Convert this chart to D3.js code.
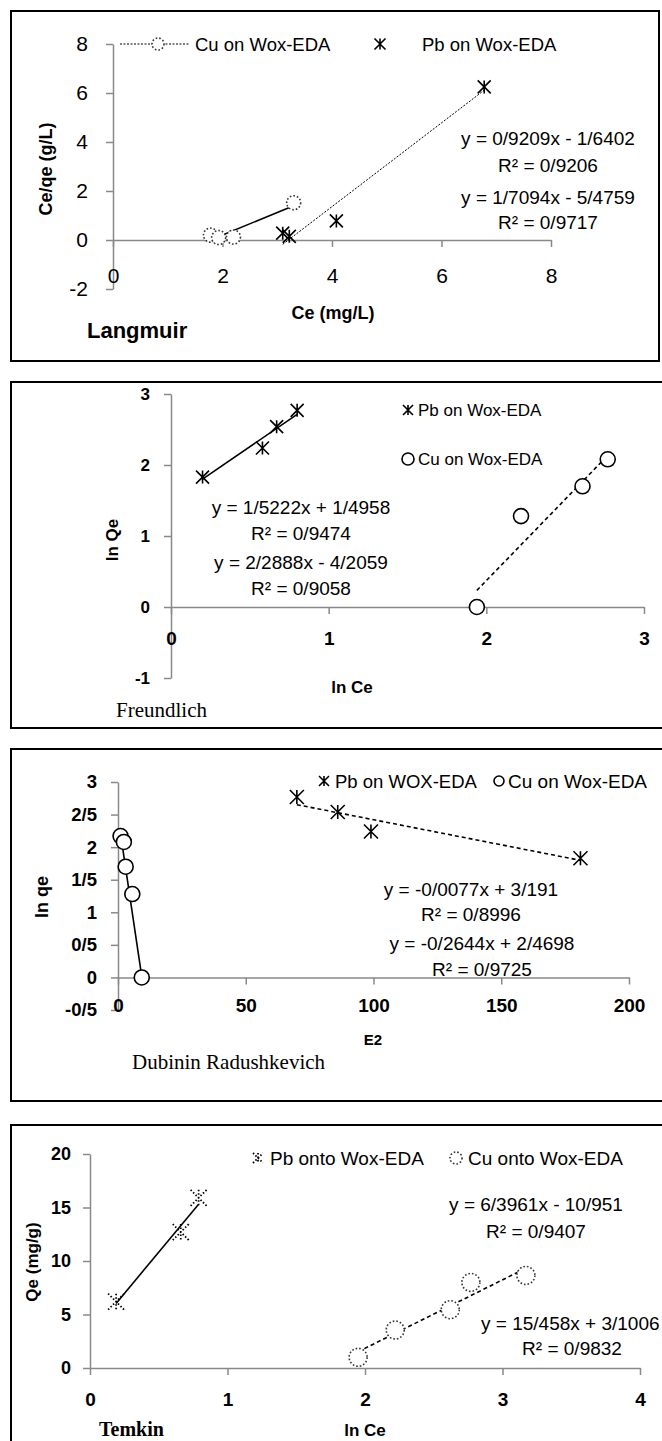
<!DOCTYPE html>
<html>
<head>
<meta charset="utf-8">
<script src="https://cdn.jsdelivr.net/npm/d3@7"></script>
<style>
body { margin: 0; background: #fff; }
text { font-family: "Liberation Sans", Arial, sans-serif; fill: #000; }
.serif { font-family: "Liberation Serif", "Times New Roman", serif; }
.axis path, .axis line { stroke: #898989; stroke-width: 1.5; }
</style>
</head>
<body>
<script>
var width = 662,
    height = 1441;

// Langmuir
var langCu = [[1.78, 0.2], [1.93, 0.1], [2.2, 0.12], [3.3, 1.52]];
var langPb = [[3.1, 0.28], [3.22, 0.15], [4.08, 0.78], [6.78, 6.25]];
var langCuFit = [0.9209, -1.6402];
var langPbFit = [1.7094, -5.4759];
var langXTicks = [0, 2, 4, 6, 8];
var langYTicks = [-2, 0, 2, 4, 6, 8];
var langEq = ["y = 0/9209x - 1/6402", "R² = 0/9206", "y = 1/7094x - 5/4759", "R² = 0/9717"];

// Freundlich
var freuPb = [[0.2, 1.83], [0.58, 2.24], [0.67, 2.54], [0.8, 2.77]];
var freuCu = [[1.94, 0], [2.22, 1.28], [2.61, 1.7], [2.77, 2.08]];
var freuPbFit = [1.5222, 1.4958];
var freuCuFit = [2.2888, -4.2059];
var freuXTicks = [0, 1, 2, 3];
var freuYTicks = [-1, 0, 1, 2, 3];
var freuEq = ["y = 1/5222x + 1/4958", "R² = 0/9474", "y = 2/2888x - 4/2059", "R² = 0/9058"];

// Dubinin Radushkevich
var drPb = [[70, 2.77], [86, 2.54], [99, 2.24], [181, 1.83]];
var drCu = [[1, 2.17], [2.3, 2.08], [3, 1.7], [5.6, 1.28], [9.3, 0]];
var drPbFit = [-0.0077, 3.191];
var drCuFit = [-0.2644, 2.4698];
var drXTicks = [0, 50, 100, 150, 200];
var drYTicks = [-0.5, 0, 0.5, 1, 1.5, 2, 2.5, 3];
var drEq = ["y = -0/0077x + 3/191", "R² = 0/8996", "y = -0/2644x + 2/4698", "R² = 0/9725"];

// Temkin
var temPb = [[0.19, 6.2], [0.66, 12.7], [0.79, 15.9]];
var temCu = [[1.95, 1.0], [2.22, 3.55], [2.62, 5.45], [2.77, 8.0], [3.17, 8.65]];
var temPbFit = [15.458, 3.1006];
var temCuFit = [6.3961, -10.951];
var temXTicks = [0, 1, 2, 3, 4];
var temYTicks = [0, 5, 10, 15, 20];
var temEq = ["y = 6/3961x - 10/951", "R² = 0/9407", "y = 15/458x + 3/1006", "R² = 0/9832"];

var svg = d3.select("body").append("svg")
  .attr("width", width)
  .attr("height", height);

function slash(d) { return String(d).replace(".", "/"); }

function marker(g, type, cx, cy, s) {
  if (type == "circle" || type == "dotcircle") {
    g.append("circle")
      .attr("cx", cx).attr("cy", cy).attr("r", s)
      .attr("fill", "#fff")
      .attr("stroke", type == "circle" ? "#000" : "#333")
      .attr("stroke-width", 1.6)
      .attr("stroke-dasharray", type == "circle" ? null : "1.6,2");
  } else {
    var p = "M" + (cx - s) + "," + (cy - s) + "L" + (cx + s) + "," + (cy + s) +
            "M" + (cx - s) + "," + (cy + s) + "L" + (cx + s) + "," + (cy - s) +
            "M" + cx + "," + (cy - s) + "L" + cx + "," + (cy + s);
    g.append("path")
      .attr("d", p)
      .attr("fill", "none")
      .attr("stroke", "#000")
      .attr("stroke-width", type == "star" ? 1.6 : 1.8)
      .attr("stroke-dasharray", type == "star" ? null : "1.5,2");
  }
}

function panel(o) {
  var g = svg.append("g");

  g.append("rect")
    .attr("x", o.box[0]).attr("y", o.box[1])
    .attr("width", o.box[2]).attr("height", o.box[3])
    .attr("fill", "none").attr("stroke", "#000").attr("stroke-width", 2);

  var x = d3.scaleLinear().domain(o.xDomain).range(o.xRange);
  var y = d3.scaleLinear().domain(o.yDomain).range(o.yRange);

  var ya = g.append("g").attr("class", "axis")
    .attr("transform", "translate(" + x(0) + ",0)")
    .call(d3.axisLeft(y).tickValues(o.yTicks).tickSize(7).tickSizeOuter(0)
      .tickPadding(o.yPad).tickFormat(slash));
  ya.selectAll("text")
    .style("font-size", o.yFont + "px")
    .style("font-weight", o.bold ? "bold" : "normal")
    .style("font-family", "'Liberation Sans', Arial, sans-serif")
    .attr("fill", "#000");

  var xa = g.append("g").attr("class", "axis")
    .attr("transform", "translate(0," + y(0) + ")")
    .call(d3.axisBottom(x).tickValues(o.xTicks).tickSize(7).tickSizeOuter(0)
      .tickPadding(o.xPad).tickFormat(slash));
  xa.selectAll("text")
    .style("font-size", o.xFont + "px")
    .style("font-weight", o.bold ? "bold" : "normal")
    .style("font-family", "'Liberation Sans', Arial, sans-serif")
    .attr("fill", "#000");

  o.series.forEach(function(s) {
    var ext = d3.extent(s.data, function(d) { return d[0]; });
    g.append("line")
      .attr("x1", x(ext[0])).attr("y1", y(s.fit[0] * ext[0] + s.fit[1]))
      .attr("x2", x(ext[1])).attr("y2", y(s.fit[0] * ext[1] + s.fit[1]))
      .attr("stroke", "#000")
      .attr("stroke-width", s.dash == "dot" ? 1 : 1.6)
      .attr("stroke-dasharray", s.dash == "dot" ? "2,1.5" : s.dash == "dash" ? "4,3" : null);
    s.data.forEach(function(d) { marker(g, s.type, x(d[0]), y(d[1]), s.size); });
  });

  o.texts.forEach(function(t) {
    var el = g.append("text")
      .attr("x", t[1]).attr("y", t[2])
      .attr("text-anchor", t[3] || "middle")
      .style("font-size", t[4] + "px")
      .style("font-weight", t[5] ? "bold" : "normal")
      .text(t[0]);
    if (t[6]) el.attr("class", "serif");
  });

  o.vtexts.forEach(function(t) {
    g.append("text")
      .attr("transform", "translate(" + t[1] + "," + t[2] + ") rotate(-90)")
      .attr("text-anchor", "middle")
      .style("font-size", t[3] + "px")
      .style("font-weight", "bold")
      .text(t[0]);
  });

  return g;
}

// Langmuir
var p1 = panel({
  box: [11, 11, 648, 350],
  xDomain: [0, 8], xRange: [113, 551],
  yDomain: [-2, 8], yRange: [289, 44],
  xTicks: langXTicks, yTicks: langYTicks,
  xPad: 21, yPad: 18, xFont: 21, yFont: 21, bold: false,
  series: [
    { data: langCu, fit: langCuFit, type: "dotcircle", size: 7, dash: null },
    { data: langPb, fit: langPbFit, type: "star", size: 6.5, dash: "dot" }
  ],
  texts: [
    ["Cu on Wox-EDA", 195, 51, "start", 18.5],
    ["Pb on Wox-EDA", 422, 51, "start", 18.5],
    [langEq[0], 548, 145, "middle", 19],
    [langEq[1], 548, 172, "middle", 19],
    [langEq[2], 548, 204, "middle", 19],
    [langEq[3], 548, 229, "middle", 19],
    ["Ce (mg/L)", 333, 319, "middle", 18, true],
    ["Langmuir", 87, 338, "start", 22, true]
  ],
  vtexts: [["Ce/qe (g/L)", 52, 169, 18]]
});
p1.append("line").attr("x1", 120).attr("x2", 190).attr("y1", 44).attr("y2", 44)
  .attr("stroke", "#000").attr("stroke-width", 1).attr("stroke-dasharray", "2,1.5");
marker(p1, "dotcircle", 158, 44, 6);
marker(p1, "star", 380, 44, 5.5);

// Freundlich
var p2 = panel({
  box: [11, 382, 700, 346],
  xDomain: [0, 3], xRange: [171, 644],
  yDomain: [-1, 3], yRange: [678, 394],
  xTicks: freuXTicks, yTicks: freuYTicks,
  xPad: 18, yPad: 14, xFont: 19, yFont: 17, bold: true,
  series: [
    { data: freuPb, fit: freuPbFit, type: "star", size: 6.5, dash: null },
    { data: freuCu, fit: freuCuFit, type: "circle", size: 7.5, dash: "dash" }
  ],
  texts: [
    ["Pb on Wox-EDA", 418, 416, "start", 17],
    ["Cu on Wox-EDA", 418, 465, "start", 17],
    [freuEq[0], 301, 514, "middle", 19],
    [freuEq[1], 301, 540, "middle", 19],
    [freuEq[2], 301, 569, "middle", 19],
    [freuEq[3], 301, 595, "middle", 19],
    ["ln Ce", 352, 693, "middle", 17, true],
    ["Freundlich", 116, 717, "start", 21, false, true]
  ],
  vtexts: [["ln Qe", 118, 540, 17]]
});
marker(p2, "star", 408, 410, 5);
marker(p2, "circle", 408, 459, 6);

// Dubinin Radushkevich
var p3 = panel({
  box: [11, 749, 700, 352],
  xDomain: [0, 200], xRange: [118, 629],
  yDomain: [-0.5, 3], yRange: [1010, 782],
  xTicks: drXTicks, yTicks: drYTicks,
  xPad: 14, yPad: 14, xFont: 19, yFont: 18.5, bold: true,
  series: [
    { data: drPb, fit: drPbFit, type: "star", size: 7, dash: "dash" },
    { data: drCu, fit: drCuFit, type: "circle", size: 7.5, dash: null }
  ],
  texts: [
    ["Pb on WOX-EDA", 335, 788, "start", 18.5],
    ["Cu on Wox-EDA", 508, 788, "start", 19],
    [drEq[0], 471, 896, "middle", 19],
    [drEq[1], 471, 921, "middle", 19],
    [drEq[2], 482, 950, "middle", 19],
    [drEq[3], 482, 976, "middle", 19],
    ["E2", 373, 1045, "middle", 15, true],
    ["Dubinin Radushkevich", 132, 1069, "start", 21, false, true]
  ],
  vtexts: [["ln qe", 48, 897, 18]]
});
marker(p3, "star", 324, 781, 5);
marker(p3, "circle", 499, 781, 5);

// Temkin
var p4 = panel({
  box: [11, 1125, 700, 340],
  xDomain: [0, 4], xRange: [90, 640],
  yDomain: [0, 20], yRange: [1368, 1154],
  xTicks: temXTicks, yTicks: temYTicks,
  xPad: 18, yPad: 12, xFont: 19, yFont: 18, bold: true,
  series: [
    { data: temPb, fit: temPbFit, type: "dotstar", size: 8, dash: null },
    { data: temCu, fit: temCuFit, type: "dotcircle", size: 9, dash: "dash" }
  ],
  texts: [
    ["Pb onto Wox-EDA", 270, 1165, "start", 19],
    ["Cu onto Wox-EDA", 468, 1165, "start", 19],
    [temEq[0], 536, 1211, "middle", 19],
    [temEq[1], 536, 1238, "middle", 19],
    [temEq[2], 481, 1330, "start", 19],
    [temEq[3], 572, 1355, "middle", 19],
    ["ln Ce", 365, 1436, "middle", 17, true],
    ["Temkin", 99, 1436, "start", 20, true, true]
  ],
  vtexts: [["Qe (mg/g)", 38, 1262, 17]]
});
marker(p4, "dotstar", 258, 1158, 5);
marker(p4, "dotcircle", 456, 1158, 6);
</script>
</body>
</html>
